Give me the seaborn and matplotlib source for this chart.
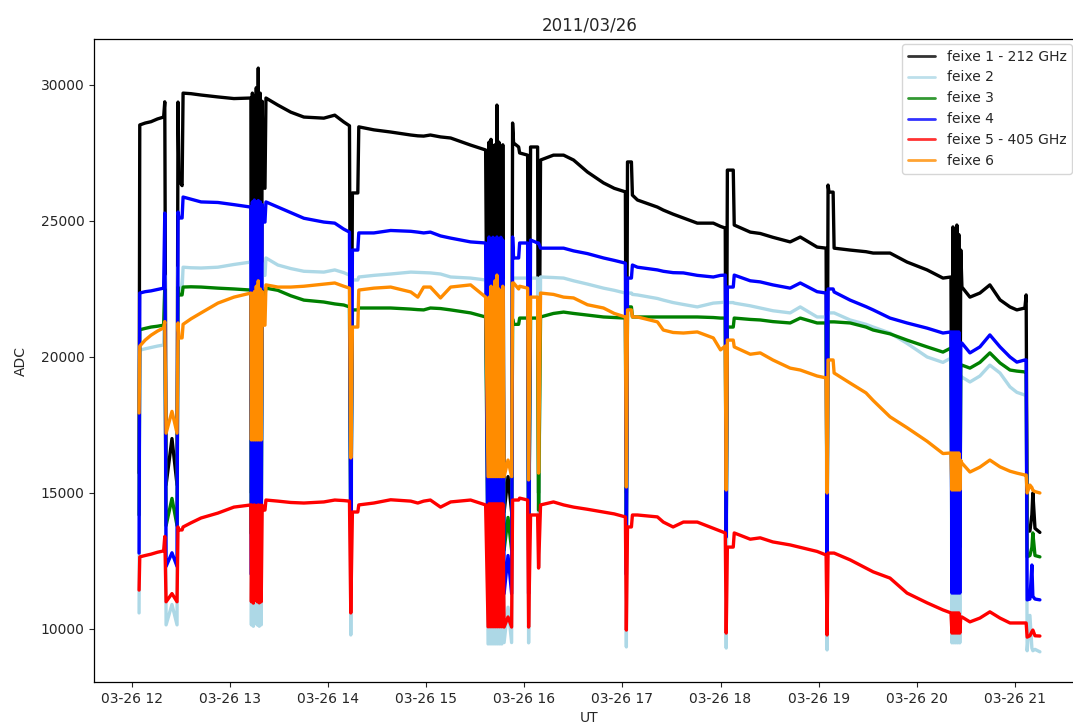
import numpy as np
import pandas as pd
import matplotlib
matplotlib.use("Agg")
import matplotlib.pyplot as plt
import matplotlib.dates as mdates
from matplotlib.lines import Line2D
import seaborn as sns

# minutes after 2011-03-26 12:00 UT
minutes = [
    4.28, 4.7, 8.0, 11.6, 15.5, 19.3, 20.0, 20.8, 24.4, 27.5, 28.1, 28.7, 30.6, 31.2, 36.0, 42.2, 52.5, 62.3, 72.7,
    73.0, 73.6, 74.2, 74.8, 75.4, 76.0, 76.6, 77.2, 77.8, 78.4, 79.0, 79.6, 80.2, 81.3, 81.9,
    89.2, 97.1, 105.1, 117.3, 124.0, 129.5, 133.0, 133.8, 134.8, 138.1, 138.7,
    147.9, 158.2, 170.5, 174.8, 178.4, 182.5, 188.7, 194.9, 207.1, 216.3,
    217.8, 218.4, 219.0, 219.6, 220.2, 220.8, 221.4, 222.0, 222.6, 223.2, 223.8, 224.4, 225.0, 225.6, 226.2, 226.8,
    227.6, 230.0, 232.2, 232.8, 233.4, 236.5, 237.1, 242.0, 242.6, 243.8, 248.1, 248.7, 249.9,
    257.8, 264.0, 270.1, 278.6, 288.4, 295.0, 301.8, 302.4, 303.1, 305.5, 306.1, 309.2,
    321.4, 325.0, 331.0, 337.3, 345.8, 355.6, 360.0, 362.9, 363.5, 364.2, 367.8, 368.4,
    378.2, 384.3, 392.0, 402.6, 408.8, 419.1, 424.6, 425.2, 425.8, 426.4, 428.9, 429.5,
    439.3, 449.0, 453.4, 463.7, 474.1, 486.4, 496.1, 501.0,
    501.6, 502.2, 502.8, 503.4, 504.0, 504.6, 505.2, 505.8, 506.4, 507.0, 507.7,
    512.6, 518.7, 524.8, 531.0, 537.1, 541.3, 546.2, 547.0, 547.6, 549.3, 550.5, 551.1, 552.4, 555.4,
]

feixe1 = [
    15730, 28530, 28600, 28650, 28750, 28820, 29380, 15300, 17000, 15300, 29370, 26500, 26300, 29700, 29680, 29630, 29560, 29500, 29520,
    15000, 29700, 15000, 29600, 15000, 29900, 15000, 30620, 15000, 29700, 15000, 29400, 26250, 26200, 29520,
    29260, 29000, 28820, 28780, 28890, 28640, 28500, 15000, 26030, 26030, 28460,
    28350, 28270, 28160, 28130, 28120, 28160, 28090, 28050, 27790, 27610,
    14300, 27900, 14300, 28000, 14300, 27750, 14300, 27800, 14300, 29260, 14300, 27900, 14300, 27700, 14300, 27800,
    14300, 15600, 14300, 28600, 27870, 27720, 27500, 27420, 14300, 27720, 27720, 15000, 27240,
    27420, 27420, 27240, 26800, 26400, 26200, 26070, 15000, 27170, 27170, 25950, 25770,
    25510, 25400, 25250, 25110, 24920, 24920, 24800, 24740, 15000, 26870, 26870, 24850,
    24590, 24540, 24400, 24230, 24410, 24040, 24000, 15000, 26320, 26060, 26060, 24000,
    23930, 23870, 23820, 23820, 23490, 23200, 22900, 22940,
    15000, 24780, 15000, 24600, 15000, 24850, 15000, 24500, 15000, 23930, 22570,
    22200, 22350, 22650, 22100, 21840, 21730, 21800, 22280, 13600, 13600, 14200, 15000, 13700, 13550,
]

feixe2 = [
    10590, 20250, 20300, 20350, 20400, 20440, 23000, 10150, 10900, 10150, 23300, 22500, 22500, 23300, 23280, 23270, 23300, 23400, 23490,
    10150, 23450, 10100, 23450, 10200, 23450, 10150, 23450, 10100, 23450, 10150, 23450, 23000, 23000, 23640,
    23380, 23250, 23150, 23120, 23200, 23100, 23010, 9780, 22830, 22830, 22940,
    23000, 23050, 23120, 23110, 23100, 23090, 23050, 22940, 22900, 22830,
    9450, 22850, 9450, 22850, 9450, 22850, 9450, 22850, 9450, 22850, 9450, 22850, 9450, 22850, 9450, 22850,
    9500, 10800, 9500, 22900, 22900, 22900, 22900, 22900, 9490, 22900, 22900, 12300, 22940,
    22920, 22900, 22800, 22680, 22530, 22450, 22350, 9340, 22350, 22350, 22300, 22280,
    22150, 22090, 22000, 21930, 21840, 21980, 22000, 22020, 9300, 22000, 22000, 21980,
    21880, 21800, 21700, 21620, 21840, 21470, 21470, 9230, 21620, 21620, 21620, 21620,
    21360, 21200, 21100, 20880, 20500, 20000, 19800, 19960,
    9490, 19960, 9490, 19960, 9490, 19960, 9490, 19960, 9490, 19300, 19260,
    19080, 19300, 19700, 19410, 18900, 18700, 18600, 18600, 9200, 10500, 9300, 9200, 9250, 9160,
]

feixe3 = [
    14190, 21000, 21050, 21100, 21130, 21170, 22500, 13800, 14800, 13800, 22570, 22280, 22280, 22570, 22580, 22570, 22530, 22500, 22460,
    13500, 22450, 13500, 22450, 13500, 22450, 13500, 22450, 13500, 22450, 13500, 22450, 22300, 22300, 22530,
    22450, 22250, 22090, 22020, 21950, 21910, 21840, 13500, 21730, 21730, 21800,
    21800, 21800, 21760, 21740, 21730, 21800, 21780, 21730, 21620, 21470,
    12900, 21450, 12900, 21450, 12900, 21450, 12900, 21450, 12900, 21450, 12900, 21450, 12900, 21450, 12900, 21450,
    12900, 14100, 12900, 21400, 21200, 21200, 21430, 21430, 12900, 21430, 21430, 14370, 21470,
    21600, 21650, 21600, 21540, 21470, 21450, 21430, 13500, 21840, 21840, 21470, 21470,
    21470, 21470, 21470, 21470, 21470, 21450, 21430, 21430, 13500, 21100, 21100, 21430,
    21380, 21360, 21300, 21250, 21430, 21250, 21250, 13000, 21290, 21290, 21290, 21290,
    21250, 21100, 20990, 20850, 20620, 20370, 20180, 20330,
    13000, 20330, 13000, 20330, 13000, 20330, 13000, 20330, 13000, 19700, 19700,
    19590, 19800, 20150, 19780, 19520, 19480, 19450, 19450, 12650, 12700, 13000, 13530, 12700, 12650,
]

feixe4 = [
    12790, 22350, 22400, 22430, 22480, 22530, 25290, 12300, 12800, 12300, 25330, 25110, 25110, 25880, 25800, 25700, 25680, 25600, 25510,
    12000, 25700, 12000, 25770, 12000, 25700, 12000, 25750, 12000, 25700, 12000, 25600, 24960, 24960, 25700,
    25510, 25300, 25100, 24960, 24920, 24700, 24590, 12000, 23930, 23930, 24560,
    24560, 24650, 24620, 24590, 24560, 24590, 24450, 24370, 24230, 24190,
    11300, 24410, 11300, 24300, 11300, 24400, 11300, 24350, 11300, 24410, 11300, 24300, 11300, 24400, 11300, 24300,
    11300, 12700, 11300, 24410, 23640, 23640, 24190, 24190, 11300, 24300, 24190, 24190, 24000,
    24000, 24000, 23900, 23800, 23640, 23550, 23450, 12000, 22900, 22900, 23380, 23300,
    23200, 23150, 23100, 23090, 23000, 22940, 23000, 23010, 13380, 22570, 22570, 23010,
    22800, 22760, 22650, 22530, 22720, 22400, 22350, 12650, 22500, 22500, 22500, 22390,
    22090, 21850, 21730, 21430, 21250, 21060, 20880, 20920,
    11320, 20920, 11320, 20920, 11320, 20920, 11320, 20920, 11320, 20510, 20510,
    20150, 20370, 20810, 20370, 20000, 19810, 19890, 19890, 11070, 11100, 12350, 11200, 11100, 11070,
]

feixe5 = [
    11430, 12650, 12700, 12750, 12820, 12870, 13400, 11000, 11300, 11000, 13750, 13640, 13640, 13750, 13900, 14080, 14260, 14480, 14560,
    11000, 14550, 10950, 14560, 11050, 14540, 11000, 14560, 10960, 14550, 11000, 14550, 14370, 14370, 14740,
    14700, 14650, 14630, 14670, 14740, 14720, 14700, 10590, 14300, 14300, 14560,
    14630, 14750, 14700, 14630, 14700, 14740, 14480, 14670, 14740, 14560,
    10080, 14600, 10080, 14600, 10080, 14600, 10080, 14600, 10080, 14600, 10080, 14600, 10080, 14600, 10080, 14600,
    10070, 10440, 10070, 14740, 14740, 14740, 14810, 14740, 10070, 14190, 14190, 12240, 14560,
    14670, 14560, 14480, 14400, 14300, 14230, 14120, 9960, 13750, 13750, 14190, 14190,
    14120, 13930, 13750, 13930, 13930, 13700, 13600, 13530, 9850, 13010, 13010, 13530,
    13300, 13350, 13200, 13090, 13000, 12850, 12720, 9780, 12790, 12790, 12790, 12790,
    12540, 12240, 12100, 11870, 11320, 10960, 10700, 10590,
    9850, 10590, 9850, 10590, 9850, 10590, 9850, 10590, 9850, 10440, 10440,
    10260, 10400, 10630, 10400, 10220, 10220, 10220, 10220, 9700, 9750, 9900, 9960, 9750, 9740,
]

feixe6 = [
    17940, 20400, 20620, 20800, 20950, 21070, 21300, 17200, 18000, 17200, 21250, 20700, 20700, 21200, 21400, 21620, 21980, 22200, 22350,
    16950, 22300, 16950, 22400, 16950, 22600, 16950, 22800, 16950, 22500, 16950, 22400, 21170, 21170, 22650,
    22570, 22570, 22600, 22680, 22720, 22600, 22530, 16290, 21100, 21100, 22460,
    22530, 22570, 22390, 22200, 22570, 22570, 22170, 22570, 22650, 22200,
    15600, 22200, 15600, 22600, 15600, 22400, 15600, 22800, 15600, 23010, 15600, 22500, 15600, 22300, 15600, 22600,
    15600, 16210, 15600, 22720, 22720, 22500, 22600, 22530, 15480, 22200, 22200, 15730, 22350,
    22300, 22200, 22170, 21920, 21800, 21600, 21470, 15220, 21730, 21730, 21470, 21470,
    21290, 20990, 20900, 20880, 20920, 20700, 20260, 20400, 15110, 20620, 20620, 20370,
    20100, 20150, 19890, 19590, 19520, 19300, 19230, 15000, 19890, 19890, 19890, 19410,
    19040, 18680, 18400, 17800, 17400, 16900, 16450, 16470,
    15110, 16470, 15110, 16470, 15110, 16470, 15110, 16470, 15110, 16200, 16100,
    15770, 15950, 16210, 15960, 15800, 15730, 15660, 15660, 15000, 15290, 15200, 15100, 15050, 15000,
]

series_names = ["feixe 1 - 212 GHz", "feixe 2", "feixe 3", "feixe 4", "feixe 5 - 405 GHz", "feixe 6"]
series_colors = ["black", "lightblue", "green", "blue", "red", "darkorange"]
series_values = [feixe1, feixe2, feixe3, feixe4, feixe5, feixe6]

start = pd.Timestamp("2011-03-26 12:00:00")
times = start + pd.to_timedelta(minutes, unit="min")

frames = []
for name, vals in zip(series_names, series_values):
    frames.append(pd.DataFrame({"UT": times, "ADC": vals, "serie": name}))
df = pd.concat(frames, ignore_index=True)

sns.set_style("ticks")
plt.rcParams["font.family"] = ["DejaVu Sans"]
plt.rcParams["font.size"] = 10

fig = plt.figure(figsize=(10.73, 7.27), dpi=100)
ax = fig.add_axes([94 / 1073, 45 / 727, (1085 - 94) / 1073, (682 - 39) / 727])

sns.lineplot(data=df, x="UT", y="ADC", hue="serie", hue_order=series_names,
             palette=series_colors, estimator=None, sort=False, linewidth=2.4,
             legend=False, ax=ax)

ax.set_xlim(start + pd.Timedelta(minutes=-23.3), start + pd.Timedelta(minutes=583.0))
ax.set_ylim(8050, 31690)
ax.set_yticks([10000, 15000, 20000, 25000, 30000])
ax.xaxis.set_major_locator(mdates.HourLocator())
ax.xaxis.set_major_formatter(mdates.DateFormatter("%m-%d %H"))
ax.tick_params(labelsize=10)
ax.set_xlabel("UT", fontsize=10)
ax.set_ylabel("ADC", fontsize=10, labelpad=9)
ax.set_title("2011/03/26", fontsize=12)
for sp in ax.spines.values():
    sp.set_visible(True)
    sp.set_color("black")
    sp.set_linewidth(0.9)

handles = [Line2D([0], [0], color=c, lw=2, alpha=0.8) for c in series_colors]
ax.legend(handles, series_names, loc="upper right", bbox_to_anchor=(1072 / 1073, 1 - 44 / 727),
          bbox_transform=fig.transFigure, borderaxespad=0, frameon=True, fontsize=10)

fig.savefig("out.png", dpi=100)
